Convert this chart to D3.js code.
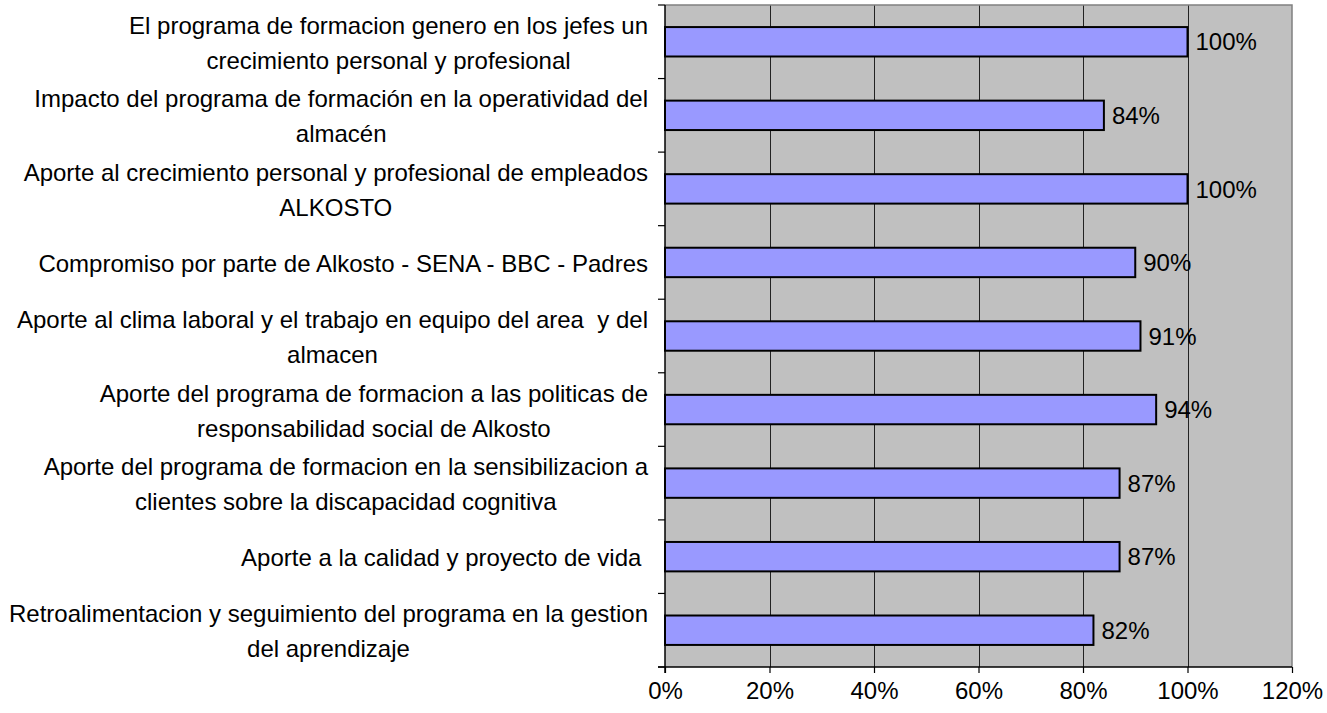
<!DOCTYPE html>
<html><head><meta charset="utf-8">
<script src="https://cdn.jsdelivr.net/npm/d3@7"></script>
<style>body{margin:0;background:#fff}svg{display:block}</style>
</head><body>
<svg id="c" width="1327" height="713"></svg>
<script>
const categories = [
  "El programa de formacion genero en los jefes un\ncrecimiento personal y profesional",
  "Impacto del programa de formación en la operatividad del\nalmacén",
  "Aporte al crecimiento personal y profesional de empleados\nALKOSTO",
  "Compromiso por parte de Alkosto - SENA - BBC - Padres",
  "Aporte al clima laboral y el trabajo en equipo del area  y del\nalmacen",
  "Aporte del programa de formacion a las politicas de\nresponsabilidad social de Alkosto",
  "Aporte del programa de formacion en la sensibilizacion a\nclientes sobre la discapacidad cognitiva",
  "Aporte a la calidad y proyecto de vida ",
  "Retroalimentacion y seguimiento del programa en la gestion\ndel aprendizaje"
];
const values = [1.00, 0.84, 1.00, 0.90, 0.91, 0.94, 0.87, 0.87, 0.82];
const xTicks = [0, 0.2, 0.4, 0.6, 0.8, 1.0, 1.2];

const svg = d3.select("#c");
const L = 665, R = 1292, T = 5, B = 667;
const FONT = "'Liberation Sans', Arial, sans-serif";
const FS = 24;

const x = d3.scaleLinear().domain([0, 1.2]).range([L, R]);
const y = d3.scaleBand().domain(categories).range([T, B]).paddingInner(0.6).paddingOuter(0.3);

// plot background
svg.append("rect").attr("x", L).attr("y", T).attr("width", R - L).attr("height", B - T).attr("fill", "#c0c0c0");

// gridlines
svg.append("g").selectAll("line").data(xTicks.slice(1, -1)).join("line")
  .attr("x1", d => Math.round(x(d)) + 0.5).attr("x2", d => Math.round(x(d)) + 0.5)
  .attr("y1", T).attr("y2", B).attr("stroke", "#222").attr("stroke-width", 1);

// top/right border
svg.append("path").attr("d", `M${L},${T}H${R}V${B}`).attr("fill", "none").attr("stroke", "#808080").attr("stroke-width", 1.5);

// bars
svg.append("g").selectAll("rect").data(values).join("rect")
  .attr("x", x(0)).attr("y", (d, i) => y(categories[i]))
  .attr("width", d => x(d) - x(0)).attr("height", y.bandwidth())
  .attr("fill", "#9999ff").attr("stroke", "#000").attr("stroke-width", 2);

// data labels
svg.append("g").selectAll("text").data(values).join("text")
  .attr("x", d => x(d) + 8).attr("y", (d, i) => y(categories[i]) + y.bandwidth() / 2)
  .attr("dy", "0.36em").attr("font-family", FONT).attr("font-size", FS).attr("fill", "#000")
  .text(d3.format(".0%"));

// x axis
const xAxis = d3.axisBottom(x).tickValues(xTicks).tickFormat(d3.format(".0%")).tickSize(6).tickPadding(9);
const gx = svg.append("g").attr("transform", `translate(0,${B})`).call(xAxis);
gx.select(".domain").remove();
gx.selectAll(".tick line").attr("stroke", "#000").attr("stroke-width", 1.2);
gx.selectAll("text").attr("font-family", FONT).attr("font-size", FS).attr("fill", "#000");
svg.append("line").attr("x1", L - 7).attr("x2", R).attr("y1", B).attr("y2", B).attr("stroke", "#000").attr("stroke-width", 1.5);

// y axis with ticks at category boundaries
const bounds = d3.range(categories.length + 1).map(i => T + i * (B - T) / categories.length);
svg.append("g").selectAll("line").data(bounds).join("line")
  .attr("x1", L - 7).attr("x2", L).attr("y1", d => d).attr("y2", d => d)
  .attr("stroke", "#000").attr("stroke-width", 1.2);
svg.append("line").attr("x1", L).attr("x2", L).attr("y1", T).attr("y2", B + 6).attr("stroke", "#000").attr("stroke-width", 1.5);

// category labels
const labelRight = 648, lineH = 35;
const lg = svg.append("g");
categories.forEach(c => {
  const lines = c.split("\n");
  const cy = y(c) + y.bandwidth() / 2 + 1;
  const t = lg.append("text").attr("font-family", FONT).attr("font-size", FS)
    .attr("fill", "#000").attr("text-anchor", "middle")
    .attr("xml:space", "preserve").style("white-space", "pre");
  const spans = lines.map((ln, i) => t.append("tspan")
    .attr("y", cy + (i - (lines.length - 1) / 2) * lineH).attr("dy", "0.36em").text(ln));
  const maxW = d3.max(spans, s => s.node().getComputedTextLength());
  spans.forEach(s => s.attr("x", labelRight - maxW / 2));
});
</script>
</body></html>
